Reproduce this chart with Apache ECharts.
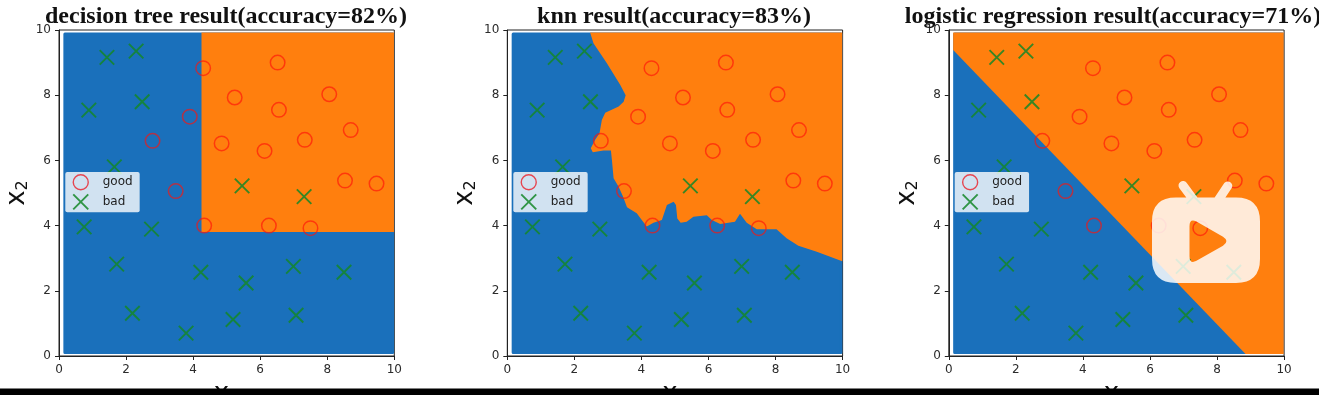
<!DOCTYPE html>
<html><head><meta charset="utf-8">
<style>html,body{margin:0;padding:0;background:#fff}#c{width:1319px;height:395px;filter:blur(0.4px)}</style>
<script src="https://cdn.jsdelivr.net/npm/echarts@6/dist/echarts.min.js"></script></head>
<body><div id="c"></div>
<script>
const titles = ['decision tree result(accuracy=82%)','knn result(accuracy=83%)','logistic regression result(accuracy=71%)'];
const goodPoints = [[4.3,8.83],[6.52,9.0],[5.24,7.93],[8.06,8.03],[6.56,7.55],[3.9,7.34],[8.7,6.93],[2.79,6.6],[4.85,6.52],[7.33,6.63],[6.13,6.29],[8.53,5.38],[9.47,5.29],[3.48,5.06],[4.33,4.0],[6.26,4.0],[7.5,3.92]];
const badPoints = [[1.43,9.16],[2.3,9.35],[2.48,7.8],[0.89,7.54],[1.65,5.8],[5.46,5.22],[7.31,4.89],[0.75,3.96],[2.76,3.89],[1.72,2.82],[4.23,2.57],[5.58,2.24],[6.99,2.75],[8.5,2.57],[2.19,1.31],[3.79,0.7],[5.19,1.12],[7.07,1.25]];
const blueRegion = [[0.175,9.875],[9.95,9.875],[9.95,0.105],[0.175,0.105]];
const treeOrange = [[4.25,9.92],[9.99,9.92],[9.99,3.8],[4.25,3.8]];
const knnOrange = [[2.47,9.92],[9.99,9.92],[9.99,2.91],[9.23,3.2],[8.68,3.38],[8.33,3.61],[8.03,3.89],[7.44,3.89],[7.14,4.09],[6.94,4.36],[6.79,4.12],[6.35,4.05],[6.1,4.17],[5.95,4.32],[5.55,4.27],[5.35,4.12],[5.17,4.09],[5.07,4.22],[5.03,4.63],[4.96,4.73],[4.76,4.63],[4.61,4.17],[4.36,4.09],[4.16,3.97],[4.01,4.17],[3.86,4.38],[3.57,4.56],[3.45,4.89],[3.32,5.19],[3.17,5.45],[3.12,6.01],[3.09,6.3],[2.87,6.3],[2.55,6.25],[2.49,6.37],[2.62,6.63],[2.75,6.83],[2.82,7.24],[2.92,7.46],[3.32,7.65],[3.47,7.8],[3.53,8.0],[3.37,8.31],[2.97,8.98],[2.57,9.59]];
const logisticOrange = [[0.13,9.39],[0.13,9.92],[9.99,9.92],[9.99,0.06],[8.85,0.06]];
const orangeRegions = [treeOrange, knnOrange, logisticOrange];

const gridLefts = [59, 507.3, 948.8];
const titleCenters = [221, 669, 1108];
const legendLefts = [65.3, 513.3, 954.7];
const BLUE = '#1a70bb', ORANGE = '#ff7f0e';
const CROSS = 'path://M0 0L10 10M0 10L10 0';
const W = 335.3, H = 326, TOP = 30;
const TICK = '#2b2b2b';

function polygonItem(pts, color, extra) {
  return function (params, api) {
    return { type: 'polygon', shape: { points: pts.map(p => api.coord(p)) },
      style: Object.assign({ fill: color }, extra || {}) };
  };
}
const axisText = { fontFamily: 'DejaVu Sans', fontSize: 12, color: TICK };
const nameRich = {
  a: { fontFamily: 'DejaVu Sans', fontSize: 26, color: '#111' },
  b: { fontFamily: 'DejaVu Sans', fontSize: 16, color: '#111', verticalAlign: 'bottom', padding: [12, 0, 0, 0] }
};
const option = { animation: false, backgroundColor: '#fff', title: [], grid: [], xAxis: [], yAxis: [], series: [], legend: [],
  graphic: [
    { type: 'rect', z: 130, silent: true, shape: { x: 0, y: 388.6, width: 1319, height: 7 }, style: { fill: '#000' } }
  ] };

titles.forEach((t, i) => {
  option.title.push({ text: t, left: titleCenters[i], top: 0, textAlign: 'center', z: 20,
    textStyle: { fontFamily: 'Liberation Serif', fontWeight: 'bold', fontSize: 24, color: '#111' } });
  option.grid.push({ left: gridLefts[i], top: TOP, width: W, height: H, outerBoundsMode: 'none', containLabel: false, show: true, borderColor: '#222', borderWidth: 1, backgroundColor: '#fff' });
  option.xAxis.push({ gridIndex: i, type: 'value', min: 0, max: 10, interval: 2, splitLine: { show: false },
    axisLine: { show: true, onZero: false, lineStyle: { color: '#222', width: 1 } }, axisTick: { length: 4, lineStyle: { color: '#222' } },
    axisLabel: Object.assign({ margin: 8 }, axisText),
    name: '{a|x}{b|1}', nameLocation: 'middle', nameGap: 18, nameTextStyle: { rich: nameRich } });
  option.yAxis.push({ gridIndex: i, type: 'value', min: 0, max: 10, interval: 2, splitLine: { show: false },
    axisLine: { show: true, onZero: false, lineStyle: { color: '#222', width: 1 } }, axisTick: { length: 4, lineStyle: { color: '#222' } },
    axisLabel: Object.assign({ margin: 8 }, axisText),
    name: '{a|x}{b|2}', nameLocation: 'middle', nameGap: 28, nameTextStyle: { rich: nameRich } });
  option.series.push({ type: 'custom', xAxisIndex: i, yAxisIndex: i, silent: true, z: 2, data: [0], clip: false,
    renderItem: polygonItem(blueRegion, BLUE, { stroke: BLUE, lineWidth: 3, lineJoin: 'round' }) });
  option.series.push({ type: 'custom', xAxisIndex: i, yAxisIndex: i, silent: true, z: 3, data: [0], clip: false,
    renderItem: polygonItem(orangeRegions[i], ORANGE) });
  option.series.push({ name: 'good', type: 'scatter', xAxisIndex: i, yAxisIndex: i, z: 5, data: goodPoints, symbol: 'circle', symbolSize: 14.5,
    itemStyle: { color: 'rgba(0,0,0,0)', borderColor: 'rgba(255,20,10,0.66)', borderWidth: 1.5, opacity: 1 } });
  option.series.push({ name: 'bad', type: 'scatter', xAxisIndex: i, yAxisIndex: i, z: 5, data: badPoints, symbol: CROSS, symbolSize: 14.5,
    itemStyle: { color: 'rgba(0,0,0,0)', borderColor: 'rgba(20,135,40,0.85)', borderWidth: 1.9, opacity: 1 } });
  option.legend.push({ orient: 'vertical', left: legendLefts[i], top: 172, z: 10, selectedMode: false,
    backgroundColor: 'rgba(255,255,255,0.8)', borderRadius: 2, padding: [2, 7, 2, 7], itemGap: 3, itemWidth: 16, itemHeight: 15,
    data: [
      { name: 'good', icon: 'circle', itemStyle: { color: 'rgba(0,0,0,0)', borderColor: 'rgba(235,30,40,0.8)', borderWidth: 1.4 } },
      { name: 'bad', icon: CROSS, itemStyle: { color: 'rgba(0,0,0,0)', borderColor: 'rgba(20,135,40,0.85)', borderWidth: 1.9 } }
    ],
    textStyle: { fontFamily: 'DejaVu Sans', fontSize: 12, color: '#222', padding: [0, 0, 0, 9] } });
});
// video-site watermark over the third panel
option.series.push({ type: 'custom', coordinateSystem: 'none', silent: true, z: 50, data: [0],
  renderItem: function () {
    return { type: 'path', shape: { x: 1152, y: 181, width: 108, height: 102, layout: 'cover',
      pathData: 'M1176 197 L1236 197 Q1260 197 1260 221 L1260 259 Q1260 283 1236 283 L1176 283 Q1152 283 1152 259 L1152 221 Q1152 197 1176 197 Z ' +
        'M1189.5 226 L1189.5 256 Q1189.5 264 1196 261 L1223 245.5 Q1230 241 1223 236.5 L1196 221 Q1189.5 218 1189.5 226 Z ' +
        'M1186.6 182.3 L1197.6 197.3 L1190.4 202.7 L1179.4 187.7 A4.5 4.5 0 0 1 1186.6 182.3 Z ' +
        'M1231.7 187.5 L1221.7 202.5 L1214.3 197.5 L1224.3 182.5 A4.5 4.5 0 0 1 1231.7 187.5 Z' },
      style: { fill: 'rgba(255,255,255,0.84)' } };
  } });
echarts.init(document.getElementById('c')).setOption(option);
</script></body></html>
